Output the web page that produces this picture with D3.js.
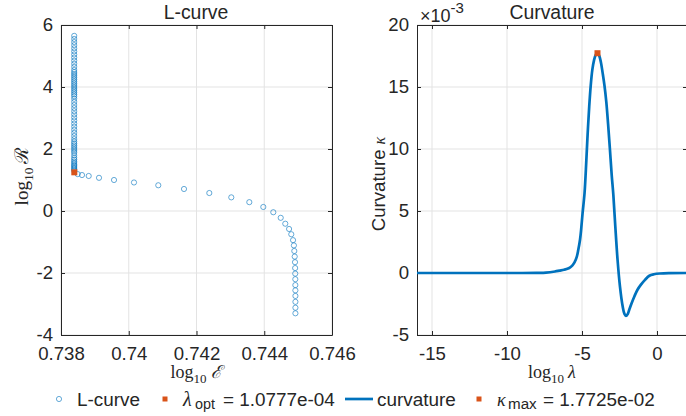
<!DOCTYPE html>
<html><head><meta charset="utf-8">
<script src="https://cdn.jsdelivr.net/npm/d3@7"></script>
<style>
html,body{margin:0;padding:0;background:#fff;}
svg{display:block;}
text{font-family:"Liberation Sans",Arial,Helvetica,sans-serif;fill:#262626;}
.serif{font-family:"Liberation Serif","DejaVu Serif",serif;}
</style></head>
<body>
<svg id="c" width="686" height="416"></svg>
<script>
// ---------- data ----------
// L-curve: log10 E (residual) vs log10 R (regularisation)
const lcurveLogE = [
 0.73839,0.73839,0.73839,0.73839,0.73839,0.73839,0.73839,0.73839,0.73839,0.73839,
 0.73839,0.73839,0.73839,0.73839,0.73839,0.73839,0.73839,0.73839,0.73839,0.73839,
 0.73839,0.73839,0.73839,0.73839,0.73839,0.73839,0.73839,0.73839,0.73839,0.73839,
 0.73839,0.73839,0.73839,0.73839,0.73839,0.73839,0.73839,0.73839,0.73839,0.73839,
 0.73839,0.73839,0.73839,0.73839,0.73839,0.73839,0.73839,0.73839,0.73839,0.73839,
 0.73839,0.73839,0.73839,0.73839,0.73839,0.73839,0.73839,0.73839,
 0.738493,0.73862,0.738818,0.739122,0.739565,0.740155,0.740872,0.741631,0.742378,0.743027,
 0.743559,0.743972,0.744267,0.744486,0.744621,0.744733,0.744798,0.74485,0.744875,0.744887,
 0.744899,0.744908,0.744912,0.744915,0.744917,0.744918,0.744919,0.74492,0.74492,0.74492,
 0.74492
];
const lcurveLogR = [
 5.65,5.55,5.45,5.35,5.25,5.15,5.05,4.95,4.85,4.75,
 4.65,4.55,4.48,4.42,4.36,4.30,4.24,4.18,4.12,4.06,
 4.00,3.94,3.88,3.82,3.76,3.70,3.62,3.52,3.42,3.32,
 3.22,3.12,3.02,2.92,2.82,2.72,2.62,2.52,2.42,2.32,
 2.24,2.18,2.12,2.06,2.00,1.94,1.88,1.80,1.72,1.66,
 1.60,1.55,1.50,1.46,1.42,1.38,1.34,1.30,
 1.19,1.16,1.13,1.07,1.00,0.92,0.83,0.71,0.58,0.44,
 0.285,0.13,-0.04,-0.22,-0.41,-0.58,-0.75,-0.94,-1.11,-1.29,
 -1.47,-1.65,-1.84,-2.02,-2.20,-2.39,-2.56,-2.74,-2.93,-3.12,
 -3.30
];
const optLogE = [0.738393];
const optLogR = [1.248];

// Curvature vs log10 lambda (kappa in units of 1e-3)
const curvLogLambda = [-16,-12,-9,-8,-7.4,-6.8,-6.5,-6.2,-5.85,-5.65,-5.5,-5.35,-5.25,-5.13,-5.05,-4.96,-4.83,-4.71,-4.62,-4.52,-4.42,-4.31,-4.2,-4.08,-3.97,-3.86,-3.74,-3.62,-3.50,-3.38,-3.26,-3.14,-3.02,-2.91,-2.78,-2.63,-2.47,-2.29,-2.17,-2.07,-1.95,-1.85,-1.68,-1.51,-1.30,-1.07,-0.80,-0.51,-0.20,0.20,0.80,2];
const curvKappa = [0,0,0,0.01,0.03,0.12,0.19,0.26,0.40,0.60,0.85,1.30,1.85,2.70,3.60,4.84,6.45,9.10,11.3,13.4,15.1,16.4,17.15,17.6,17.725,17.55,17.0,16.1,15.1,13.8,12.0,10.0,7.9,6.3,3.76,1.07,-1.08,-2.69,-3.30,-3.45,-3.30,-2.96,-2.40,-1.89,-1.35,-0.94,-0.55,-0.22,-0.10,-0.04,-0.01,0];
const maxLogLambda = [-3.9675];
const maxKappa = [17.725];

// tick labels
const leftXTicks = [0.738,0.74,0.742,0.744,0.746];
const leftXLabels = ["0.738","0.74","0.742","0.744","0.746"];
const leftYTicks = [-4,-2,0,2,4,6];
const leftYLabels = ["-4","-2","0","2","4","6"];
const rightXTicks = [-15,-10,-5,0];
const rightXLabels = ["-15","-10","-5","0"];
const rightYTicks = [-5,0,5,10,15,20];
const rightYLabels = ["-5","0","5","10","15","20"];

// ---------- drawing ----------
const svg = d3.select("#c");
const BLUE = "#0072BD", ORANGE = "#D95319", AX = "#262626", GRID = "#e3e3e3";
const TICKFS = "18.6px";

function frame(g, x, y, xt, xl, yt, yl){
  const [x0,x1] = x.range(), [y1,y0] = y.range();
  g.append("g").selectAll("line").data(xt).join("line")
    .attr("x1",d=>x(d)).attr("x2",d=>x(d)).attr("y1",y0).attr("y2",y1)
    .attr("stroke",GRID).attr("stroke-width",1);
  g.append("g").selectAll("line").data(yt).join("line")
    .attr("x1",x0).attr("x2",x1).attr("y1",d=>y(d)).attr("y2",d=>y(d))
    .attr("stroke",GRID).attr("stroke-width",1);
  const style = a => { a.selectAll("path").attr("stroke",AX); a.selectAll("line").attr("stroke",AX);
    a.selectAll("text").attr("fill",AX).style("font-size",TICKFS).style("font-family","'Liberation Sans',Arial,sans-serif"); };
  g.append("g").attr("transform",`translate(0,${y1})`)
    .call(d3.axisBottom(x).tickValues(xt).tickFormat((d,i)=>xl[i]).tickSizeInner(-4).tickSizeOuter(0).tickPadding(12))
    .call(style);
  g.append("g").attr("transform",`translate(0,${y0})`)
    .call(d3.axisTop(x).tickValues(xt).tickFormat("").tickSizeInner(-4).tickSizeOuter(0)).call(style);
  g.append("g").attr("transform",`translate(${x0},0)`)
    .call(d3.axisLeft(y).tickValues(yt).tickFormat((d,i)=>yl[i]).tickSizeInner(-4).tickSizeOuter(0).tickPadding(8))
    .call(style);
  g.append("g").attr("transform",`translate(${x1},0)`)
    .call(d3.axisRight(y).tickValues(yt).tickFormat("").tickSizeInner(-4).tickSizeOuter(0)).call(style);
}

// Left: L-curve
const xL = d3.scaleLinear().domain([0.738,0.746]).range([61,332]);
const yL = d3.scaleLinear().domain([-4,6]).range([335,25]);
const gL = svg.append("g");
frame(gL, xL, yL, leftXTicks, leftXLabels, leftYTicks, leftYLabels);
gL.append("g").selectAll("circle").data(d3.range(lcurveLogE.length)).join("circle")
  .attr("cx",i=>xL(lcurveLogE[i])).attr("cy",i=>yL(lcurveLogR[i])).attr("r",2.6)
  .attr("fill","none").attr("stroke",BLUE).attr("stroke-width",0.6);
gL.append("g").selectAll("rect").data(d3.range(optLogE.length)).join("rect")
  .attr("x",i=>xL(optLogE[i])-3).attr("y",i=>yL(optLogR[i])-3).attr("width",6).attr("height",6)
  .attr("fill",ORANGE);
gL.append("text").attr("x",196).attr("y",18.5).attr("text-anchor","middle").style("font-size","19.4px").text("L-curve");
const xlabL = gL.append("text").attr("class","serif").attr("x",196).attr("y",378).attr("text-anchor","middle").style("font-size","18px");
xlabL.append("tspan").text("log");
xlabL.append("tspan").attr("dy",5).style("font-size","13px").text("10");
xlabL.append("tspan").attr("dy",-5).attr("dx",4).style("font-style","italic").text("ℰ");
const ylabL = gL.append("text").attr("class","serif").attr("transform","translate(28,176) rotate(-90)").attr("text-anchor","middle").style("font-size","19px");
ylabL.append("tspan").text("log");
ylabL.append("tspan").attr("dy",5).style("font-size","13.5px").text("10");
ylabL.append("tspan").attr("dy",-5).attr("dx",4).text("ℛ");

// Right: Curvature
const xR = d3.scaleLinear().domain([-16,2]).range([417,687]);
const yR = d3.scaleLinear().domain([-5,20]).range([335,25]);
const gR = svg.append("g");
frame(gR, xR, yR, rightXTicks, rightXLabels, rightYTicks, rightYLabels);
const line = d3.line().x(i=>xR(curvLogLambda[i])).y(i=>yR(curvKappa[i])).curve(d3.curveCatmullRom.alpha(0.5));
gR.append("path").attr("d",line(d3.range(curvLogLambda.length)))
  .attr("fill","none").attr("stroke",BLUE).attr("stroke-width",2.7).attr("stroke-linejoin","round");
gR.append("g").selectAll("rect").data(d3.range(maxLogLambda.length)).join("rect")
  .attr("x",i=>xR(maxLogLambda[i])-3).attr("y",i=>yR(maxKappa[i])-3).attr("width",6).attr("height",6)
  .attr("fill",ORANGE);
gR.append("text").attr("x",552).attr("y",19).attr("text-anchor","middle").style("font-size","19.4px").text("Curvature");
const mult = gR.append("text").attr("x",420).attr("y",21.5).style("font-size","18px");
mult.append("tspan").text("×10");
mult.append("tspan").attr("dy",-8.5).style("font-size","15px").text("-3");
const xlabR = gR.append("text").attr("class","serif").attr("x",552).attr("y",378).attr("text-anchor","middle").style("font-size","18px");
xlabR.append("tspan").text("log");
xlabR.append("tspan").attr("dy",5).style("font-size","13px").text("10");
xlabR.append("tspan").attr("dy",-5).attr("dx",4).style("font-style","italic").text("λ");
const ylabR = gR.append("text").attr("transform","translate(385,184) rotate(-90)").attr("text-anchor","middle").style("font-size","18.6px");
ylabR.append("tspan").text("Curvature");
ylabR.append("tspan").attr("class","serif").attr("dx",5).style("font-style","italic").style("font-size","16px").text("κ");

// Legend
const lg = svg.append("g");
const ly = 399, lb = 405.7, LFS = "18.9px";
lg.append("circle").attr("cx",59).attr("cy",ly).attr("r",2.6).attr("fill","none").attr("stroke",BLUE).attr("stroke-width",0.6);
lg.append("text").attr("x",77).attr("y",lb).style("font-size",LFS).text("L-curve");
lg.append("rect").attr("x",162.5).attr("y",ly-2.5).attr("width",5).attr("height",5).attr("fill",ORANGE);
lg.append("text").attr("class","serif").attr("x",183).attr("y",lb).style("font-style","italic").style("font-size","20px").text("λ");
lg.append("text").attr("x",195).attr("y",lb+3.5).style("font-size","14.4px").text("opt");
lg.append("text").attr("x",223).attr("y",lb).style("font-size",LFS).text("= 1.0777e-04");
lg.append("line").attr("x1",345).attr("x2",373).attr("y1",ly).attr("y2",ly).attr("stroke",BLUE).attr("stroke-width",2.7);
lg.append("text").attr("x",377).attr("y",lb).style("font-size",LFS).text("curvature");
lg.append("rect").attr("x",476.5).attr("y",ly-2.5).attr("width",5).attr("height",5).attr("fill",ORANGE);
lg.append("text").attr("class","serif").attr("x",497).attr("y",lb).style("font-style","italic").style("font-size","18px").text("κ");
lg.append("text").attr("x",508).attr("y",lb+3.5).style("font-size","15.2px").text("max");
lg.append("text").attr("x",543).attr("y",lb).style("font-size",LFS).text("= 1.7725e-02");
</script>
</body></html>
